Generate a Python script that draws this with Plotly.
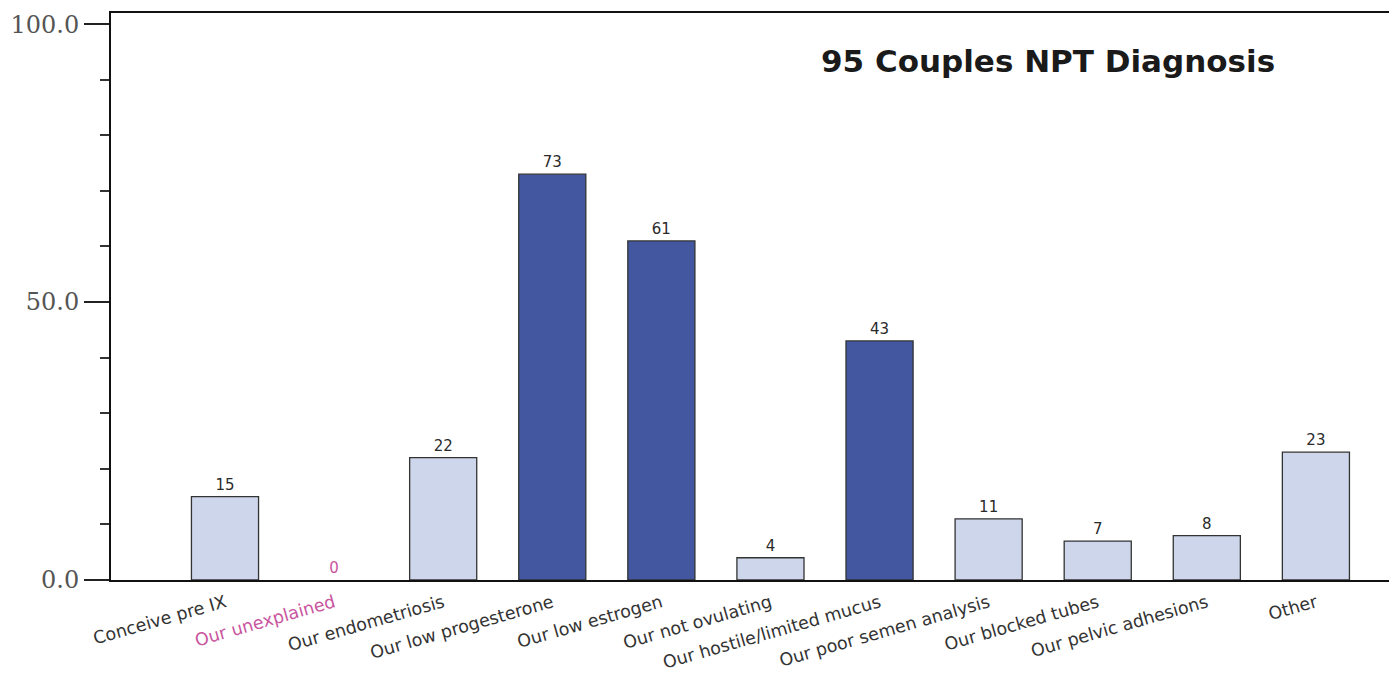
import plotly.graph_objects as go

# Diagnosis categories and couple counts
categories = [
    "Conceive pre IX", "Our unexplained", "Our endometriosis",
    "Our low progesterone", "Our low estrogen", "Our not ovulating",
    "Our hostile/limited mucus", "Our poor semen analysis",
    "Our blocked tubes", "Our pelvic adhesions", "Other",
]
counts = [15, 0, 22, 73, 61, 4, 43, 11, 7, 8, 23]
highlighted = [False, False, False, True, True, False, True, False, False, False, False]
title_text = "95 Couples NPT Diagnosis"

LIGHT = "#cdd6ea"
DARK = "#4357a0"
PINK = "#c9559f"
TEXT = "#2a2a2a"

bar_colors = [DARK if h else LIGHT for h in highlighted]
# empty categories get no outline
outline_widths = [1.3 if v > 0 else 0 for v in counts]
value_colors = [PINK if c == "Our unexplained" else TEXT for c in categories]
tick_text = [
    f"<span style='color:{PINK}'>{c}</span>" if c == "Our unexplained" else c
    for c in categories
]

fig = go.Figure(
    go.Bar(
        x=categories,
        y=counts,
        width=0.615,
        marker=dict(color=bar_colors, line=dict(color="#333333", width=outline_widths)),
        text=[str(v) for v in counts],
        textposition="outside",
        textfont=dict(family="DejaVu Sans", size=15, color=value_colors),
        cliponaxis=False,
        showlegend=False,
    )
)

fig.update_layout(
    width=1389,
    height=674,
    margin=dict(l=111, r=0, t=13, b=94),
    paper_bgcolor="white",
    plot_bgcolor="white",
    annotations=[
        dict(
            text=f"<b>{title_text}</b>",
            xref="paper", yref="paper",
            x=0.733, y=0.915,
            xanchor="center", yanchor="middle",
            showarrow=False,
            font=dict(family="DejaVu Sans", size=31, color="#1a1a1a"),
        )
    ],
)

fig.update_xaxes(
    type="category",
    range=[-1.045, 10.67],
    tickvals=categories,
    ticktext=tick_text,
    tickangle=-16,
    tickfont=dict(family="DejaVu Sans", size=17.5, color="#333333"),
    ticklabelstandoff=4,
    automargin=False,
    showline=True,
    linecolor="#111111",
    linewidth=2,
    mirror=True,
    ticks="",
    showgrid=False,
    zeroline=False,
)

fig.update_yaxes(
    range=[0, 102],
    tickvals=[0, 50, 100],
    tickformat=".1f",
    ticks="outside",
    ticklen=25,
    tickwidth=2,
    tickcolor="#222222",
    tickfont=dict(family="DejaVu Serif", size=24, color="#555555"),
    minor=dict(tickvals=[10, 20, 30, 40, 60, 70, 80, 90], ticks="outside",
               ticklen=9, tickwidth=1.5, tickcolor="#333333", showgrid=False),
    automargin=False,
    showline=True,
    linecolor="#111111",
    linewidth=2,
    showgrid=False,
    zeroline=False,
)

fig.write_html("out.html")
